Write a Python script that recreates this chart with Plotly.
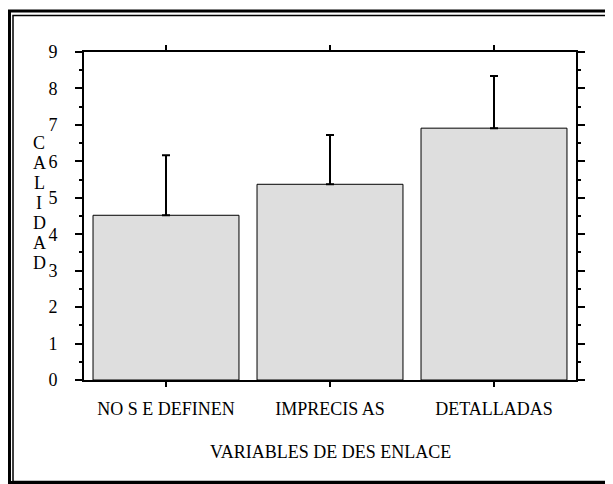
import plotly.graph_objects as go

categories = ["NO S E DEFINEN", "IMPRECIS AS", "DETALLADAS"]
means = [4.52, 5.37, 6.91]
err_plus = [1.65, 1.35, 1.43]
y_ticks = [0, 1, 2, 3, 4, 5, 6, 7, 8, 9]
y_title_letters = ["C", "A", "L", "I", "D", "A", "D"]
x_title = "VARIABLES DE DES ENLACE"

# page places the figure 8px in from the top-left corner
OFF = 8
W, H = 613 - OFF, 484 - OFF
L, T = 84 - OFF, 52 - OFF
R = W - (576 - OFF)
B = H - (380 - OFF)
PW, PH = W - L - R, H - T - B


def px(x):
    return (x - OFF - L) / PW


def py(y):
    return (H - B - (y - OFF)) / PH


FONT = "Liberation Serif, Times New Roman, serif"
FS = 18

fig = go.Figure()
fig.add_trace(go.Bar(
    x=categories, y=means,
    marker=dict(color="#dedede", line=dict(color="black", width=1)),
    error_y=dict(type="data", symmetric=False, array=err_plus,
                 arrayminus=[0, 0, 0], color="black", thickness=2, width=4),
    showlegend=False,
))

annotations = []
for i, ch in enumerate(y_title_letters):
    annotations.append(dict(text=ch, xref="paper", yref="paper",
                            x=px(39), y=py(143 + 20 * i), showarrow=False,
                            xanchor="center", yanchor="middle",
                            font=dict(family=FONT, size=FS)))
annotations.append(dict(text=x_title, xref="paper", yref="paper",
                        x=px(330), y=py(452), showarrow=False,
                        xanchor="center", yanchor="middle",
                        font=dict(family=FONT, size=FS)))

fig.update_layout(
    width=W, height=H,
    margin=dict(l=L, r=R, t=T, b=B),
    paper_bgcolor="white", plot_bgcolor="white",
    bargap=0.11,
    font=dict(family=FONT, size=FS, color="black"),
    xaxis=dict(
        showline=True, linecolor="black", linewidth=2, mirror="ticks",
        ticks="outside", ticklen=5, tickwidth=1.5, tickcolor="black",
        ticklabelstandoff=6, showgrid=False,
        tickfont=dict(family=FONT, size=FS),
    ),
    yaxis=dict(
        range=[0, 9], tickvals=y_ticks,
        showline=True, linecolor="black", linewidth=2, mirror="ticks",
        ticks="outside", ticklen=7, tickwidth=1.5, tickcolor="black",
        minor=dict(dtick=0.5, ticks="outside", ticklen=3, tickwidth=1.5, tickcolor="black"),
        ticklabelstandoff=14, showgrid=False, zeroline=False,
        tickfont=dict(family=FONT, size=FS),
    ),
    annotations=annotations,
    shapes=[
        dict(type="rect", xref="paper", yref="paper",
             x0=px(9.5), x1=px(611), y0=py(11), y1=py(482.5),
             line=dict(color="black", width=3), layer="above"),
        dict(type="rect", xref="paper", yref="paper",
             x0=px(13), x1=px(609), y0=py(15.5), y1=py(481.5),
             line=dict(color="black", width=1.5), layer="above"),
    ],
)

fig.write_html("out.html")
